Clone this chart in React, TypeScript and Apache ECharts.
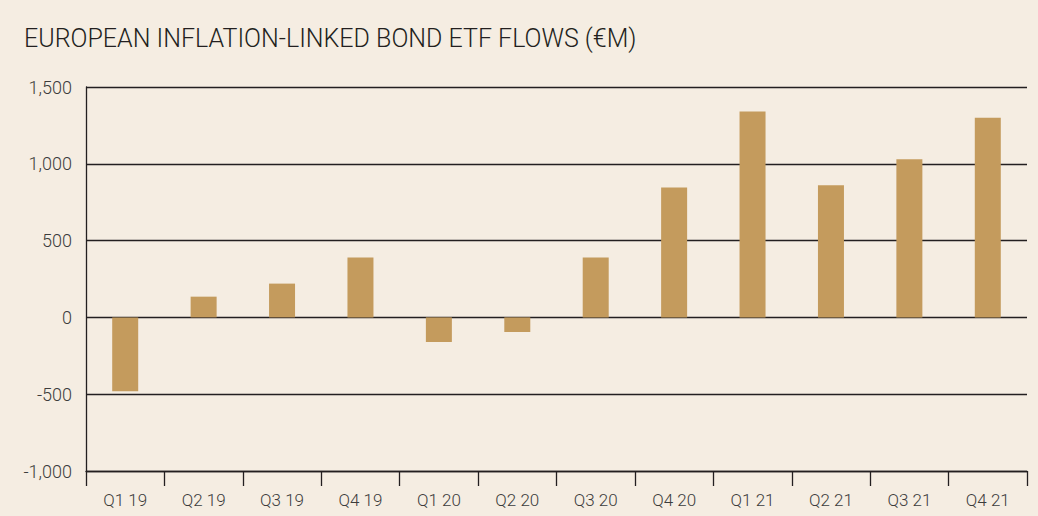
import React, { useEffect, useRef } from "react";
import * as echarts from "echarts";

const categories = ["Q1 19", "Q2 19", "Q3 19", "Q4 19", "Q1 20", "Q2 20", "Q3 20", "Q4 20", "Q1 21", "Q2 21", "Q3 21", "Q4 21"];
const flows = [-480, 135, 220, 390, -160, -95, 390, 845, 1340, 860, 1030, 1300];
const title = "EUROPEAN INFLATION-LINKED BOND ETF FLOWS (€M)";

export default function App() {
  const ref = useRef<HTMLDivElement>(null);
  useEffect(() => {
    const chart = echarts.init(ref.current!, undefined, { renderer: "svg" });
    chart.setOption({
      animation: false,
      backgroundColor: "#f5ede2",
      title: {
        text: title,
        left: 19,
        top: 21,
        textStyle: { fontFamily: "Roboto, sans-serif", fontWeight: 300, fontSize: 25, color: "#231f20" },
      },
      grid: { left: 86, right: 11, top: 87, bottom: 45 },
      xAxis: {
        type: "category",
        data: categories,
        axisLine: { show: true, onZero: false, lineStyle: { color: "#231f20", width: 1.3 } },
        axisTick: { show: true, length: 15, lineStyle: { color: "#231f20", width: 1.3 } },
        axisLabel: { color: "#3c3c3c", fontSize: 17, fontFamily: "Roboto, sans-serif", fontWeight: 300, margin: 20 },
      },
      yAxis: {
        type: "value",
        min: -1000,
        max: 1500,
        interval: 500,
        axisLine: { show: true, lineStyle: { color: "#231f20", width: 1.3 } },
        axisTick: { show: false },
        splitLine: { show: true, lineStyle: { color: "#231f20", width: 1.3 } },
        axisLabel: {
          color: "#3c3c3c",
          fontSize: 18,
          fontFamily: "Roboto, sans-serif",
          fontWeight: 300,
          margin: 14,
          formatter: (v: number) => v.toLocaleString("en-US"),
        },
      },
      series: [
        {
          type: "bar",
          data: flows,
          barWidth: 26,
          itemStyle: { color: "#c49b5d" },
        },
      ],
    });
    return () => chart.dispose();
  }, []);
  return <div ref={ref} style={{ position: "fixed", left: 0, top: 0, width: 1038, height: 516 }} />;
}
